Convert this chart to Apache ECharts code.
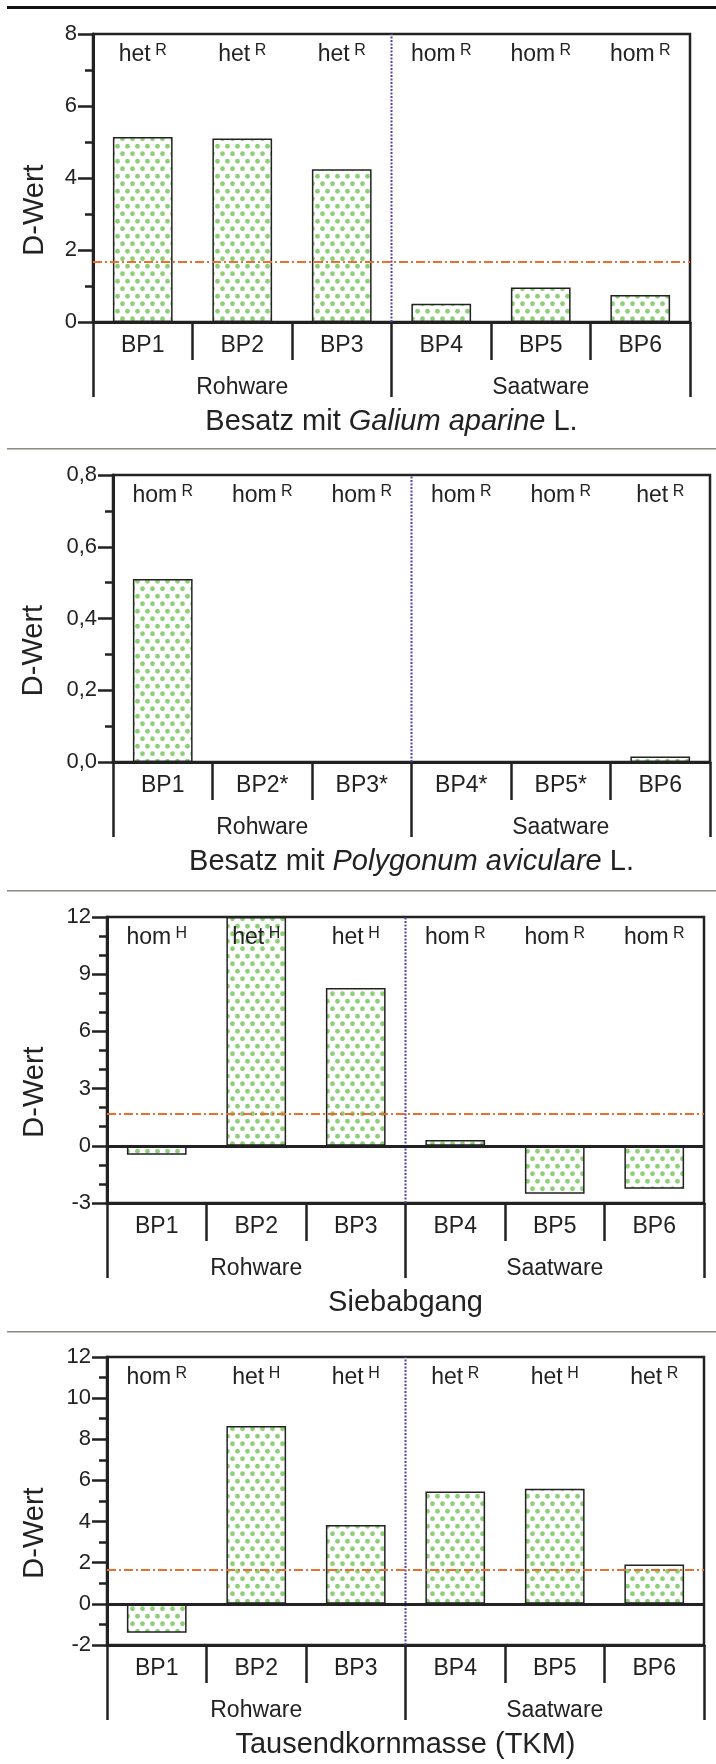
<!DOCTYPE html>
<html>
<head>
<meta charset="utf-8">
<script src="https://cdn.jsdelivr.net/npm/echarts@6/dist/echarts.min.js"></script>
<style>
html, body { margin: 0; padding: 0; background: #fff; }
#chart { width: 716px; height: 1764px; }
</style>
</head>
<body>
<div id="chart"></div>
<script>
// Kategorien und Werte
const bpLabels = ["BP1", "BP2", "BP3", "BP4", "BP5", "BP6"];
const bpLabelsPoly = ["BP1", "BP2*", "BP3*", "BP4*", "BP5*", "BP6"];
const groups = ["Rohware", "Saatware"];

const galiumValues = [5.14, 5.10, 4.24, 0.51, 0.96, 0.75];
const galiumTags = ["het R", "het R", "het R", "hom R", "hom R", "hom R"];

const polyValues = [0.51, null, null, null, null, 0.015];
const polyTags = ["hom R", "hom R", "hom R", "hom R", "hom R", "het R"];

const siebValues = [-0.47, 12, 8.27, 0.31, -2.52, -2.25];
const siebTags = ["hom H", "het H", "het H", "hom R", "hom R", "hom R"];

const tkmValues = [-1.41, 8.64, 3.83, 5.46, 5.59, 1.91];
const tkmTags = ["hom R", "het H", "het H", "het R", "het H", "het R"];

const threshold = 1.68;

const FONT = "'Liberation Sans', Arial, sans-serif";
const INK = "#222";

// Punktraster fuer die Balken
function dotPattern() {
  const c = document.createElement("canvas");
  c.width = 10;
  c.height = 15;
  const ctx = c.getContext("2d");
  ctx.fillStyle = "#fff";
  ctx.fillRect(0, 0, 10, 15);
  ctx.fillStyle = "#8fcf7a";
  [[2.5, 3.75], [7.5, 11.25]].forEach(p => {
    ctx.beginPath();
    ctx.arc(p[0], p[1], 2.4, 0, Math.PI * 2);
    ctx.fill();
  });
  return { image: c, repeat: "repeat" };
}

const panels = [
  { top: 34, left: 93, right: 26, height: 288, min: 0, max: 8, interval: 2, minor: 2,
    cats: bpLabels, values: galiumValues, tags: galiumTags, dec: 0, gap: 44,
    title: "{n|Besatz mit }{i|Galium aparine}{n| L.}", threshold: true, zero: false },
  { top: 475, left: 113, right: 6, height: 287, min: 0, max: 0.8, interval: 0.2, minor: 2,
    cats: bpLabelsPoly, values: polyValues, tags: polyTags, dec: 1, gap: 65,
    title: "{n|Besatz mit }{i|Polygonum aviculare}{n| L.}", threshold: false, zero: false },
  { top: 917, left: 107, right: 12, height: 286, min: -3, max: 12, interval: 3, minor: 3,
    cats: bpLabels, values: siebValues, tags: siebTags, dec: 0, gap: 58,
    title: "{n|Siebabgang}", threshold: true, zero: true },
  { top: 1357, left: 107, right: 12, height: 288, min: -2, max: 12, interval: 2, minor: 2,
    cats: bpLabels, values: tkmValues, tags: tkmTags, dec: 0, gap: 58,
    title: "{n|Tausendkornmasse (TKM)}", threshold: true, zero: true }
];

const chart = echarts.init(document.getElementById("chart"), null, { renderer: "canvas" });
const pattern = dotPattern();

const grid = [], xAxis = [], yAxis = [], series = [];
const graphic = [
  { type: "rect", shape: { x: 7, y: 6, width: 709, height: 3 }, style: { fill: "#111" } },
  { type: "rect", shape: { x: 7, y: 448, width: 709, height: 1.5 }, style: { fill: "#8c8a80" } },
  { type: "rect", shape: { x: 7, y: 890, width: 709, height: 1.5 }, style: { fill: "#8c8a80" } },
  { type: "rect", shape: { x: 7, y: 1331, width: 709, height: 1.5 }, style: { fill: "#8c8a80" } }
];

panels.forEach((p, i) => {
  grid.push({
    left: p.left, right: p.right, top: p.top, height: p.height,
    show: true, borderColor: INK, borderWidth: 2.5, backgroundColor: "transparent"
  });

  // Kategorien unten
  xAxis.push({
    type: "category", gridIndex: i, position: "bottom", data: p.cats,
    axisLine: { show: true, onZero: false, lineStyle: { color: INK, width: 3 } },
    axisTick: { show: true, length: 38, lineStyle: { color: INK, width: 2.5 } },
    axisLabel: { show: true, color: INK, fontSize: 23, fontFamily: FONT, margin: 12, interval: 0 }
  });
  // Gruppen (Rohware / Saatware)
  xAxis.push({
    type: "category", gridIndex: i, position: "bottom", data: groups,
    axisLine: { show: false, onZero: false },
    axisTick: { show: true, length: 75, lineStyle: { color: INK, width: 2.5 } },
    axisLabel: { show: true, color: INK, fontSize: 23, fontFamily: FONT, margin: 54, interval: 0 }
  });
  // het/hom Kennzeichnung oben
  xAxis.push({
    type: "category", gridIndex: i, position: "top", data: p.tags, z: 10,
    axisLine: { show: false, onZero: false },
    axisTick: { show: false },
    axisLabel: {
      show: true, inside: true, margin: 9, interval: 0,
      formatter: v => { const s = v.split(" "); return "{a|" + s[0] + "}{s| " + s[1] + "}"; },
      rich: {
        a: { fontSize: 23, fontFamily: FONT, color: INK },
        s: { fontSize: 16, fontFamily: FONT, color: INK, verticalAlign: "top", padding: [0, 0, 8, 0] }
      }
    }
  });
  // versteckte Wertachse fuer die Trennlinie
  xAxis.push({ type: "value", gridIndex: i, min: 0, max: 6, show: false });

  yAxis.push({
    type: "value", gridIndex: i, min: p.min, max: p.max, interval: p.interval,
    name: "D-Wert", nameLocation: "middle", nameGap: p.gap,
    nameTextStyle: { fontSize: 29, fontFamily: FONT, color: INK, padding: [0, 64, 0, 0] },
    axisLine: { show: true, onZero: false, lineStyle: { color: INK, width: 3 } },
    axisTick: { show: true, length: 15, lineStyle: { color: INK, width: 2.5 } },
    minorTick: { show: true, splitNumber: p.minor, length: 8, lineStyle: { color: INK, width: 2.5 } },
    splitLine: { show: false },
    axisLabel: {
      show: true, color: INK, fontSize: 22, fontFamily: FONT, margin: 16,
      formatter: v => v.toFixed(p.dec).replace(".", ",")
    }
  });

  const marks = [];
  if (p.zero) marks.push({ yAxis: 0, lineStyle: { type: "solid", color: INK, width: 3 } });
  if (p.threshold) marks.push({ yAxis: threshold, lineStyle: { type: [9, 3, 2, 3], color: "#ec6d2c", width: 2 } });

  series.push({
    type: "bar", xAxisIndex: i * 4, yAxisIndex: i, data: p.values, barWidth: "60%",
    itemStyle: { color: pattern, borderColor: INK, borderWidth: 1.5 },
    markLine: { silent: true, symbol: "none", label: { show: false }, data: marks }
  });
  series.push({
    type: "line", xAxisIndex: i * 4 + 3, yAxisIndex: i, symbol: "none", z: 3,
    data: [[3, p.min], [3, p.max]],
    lineStyle: { color: "#5a3fa8", width: 2, type: [2, 1.5] }
  });

  const plotW = 716 - p.left - p.right;
  graphic.push({
    type: "text", x: p.left + plotW / 2, y: p.top + p.height + 100,
    style: {
      text: p.title, align: "center", verticalAlign: "middle",
      rich: {
        n: { fontSize: 29, fontFamily: FONT, fill: INK },
        i: { fontSize: 29, fontFamily: FONT, fill: INK, fontStyle: "italic" }
      }
    }
  });
});

chart.setOption({
  animation: false,
  backgroundColor: "#fff",
  grid: grid,
  xAxis: xAxis,
  yAxis: yAxis,
  series: series,
  graphic: graphic
});
</script>
</body>
</html>
